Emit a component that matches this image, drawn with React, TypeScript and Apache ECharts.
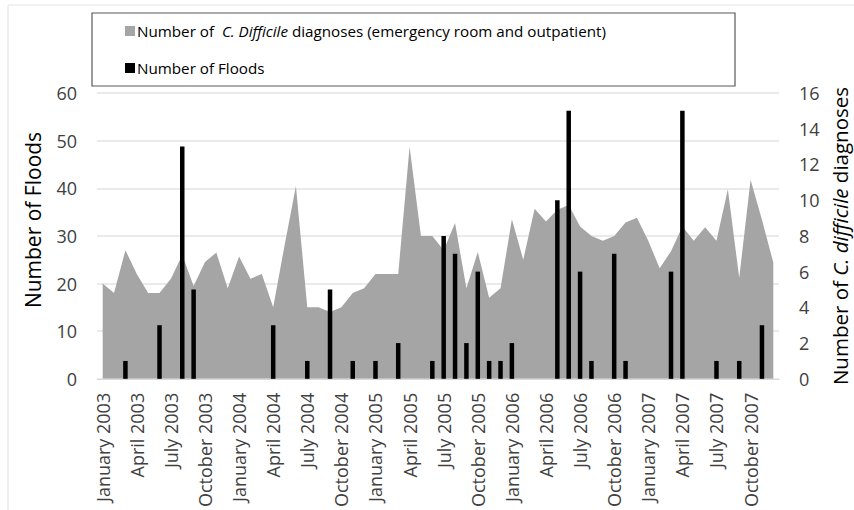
import React, { useEffect, useRef } from "react";
import * as echarts from "echarts";

const monthNames = ["January", "February", "March", "April", "May", "June", "July", "August", "September", "October", "November", "December"];
const years = [2003, 2004, 2005, 2006, 2007];
const categories: string[] = [];
years.forEach((y) => monthNames.forEach((m) => categories.push(`${m} ${y}`)));

// C. difficile diagnoses (grey area, left scale)
const diagnoses = [
  20, 18, 27, 22, 18, 18, 21, 26, 19.5, 24.5, 26.5, 19,
  25.7, 21, 22, 15, 28, 40.5, 15, 15, 14, 15, 18, 19,
  22, 22, 22, 48.7, 30, 30, 27, 32.7, 19, 26.6, 17, 19,
  33.5, 25, 35.7, 33, 35.5, 36.5, 32, 30, 29, 30, 32.8, 33.8,
  29, 23.2, 26.8, 32, 29, 31.8, 29, 39.8, 21.2, 41.8, 33.4, 24.4,
];

// Floods (black bars, right scale)
const floods = [
  0, 0, 1, 0, 0, 3, 0, 13, 5, 0, 0, 0,
  0, 0, 0, 3, 0, 0, 1, 0, 5, 0, 1, 0,
  1, 0, 2, 0, 0, 1, 8, 7, 2, 6, 1, 1,
  2, 0, 0, 0, 10, 15, 6, 1, 0, 7, 1, 0,
  0, 0, 6, 15, 0, 0, 1, 0, 1, 0, 3, 0,
];

const leftTicks = { min: 0, max: 60, interval: 10 };
const rightTicks = { min: 0, max: 16, interval: 2 };

const areaName = "Number of C. Difficile diagnoses (emergency room and outpatient)";
const barName = "Number of Floods";

const FONT = "'Open Sans', 'Noto Sans', sans-serif";
const TEXT = "#404040";

export default function App() {
  const ref = useRef<HTMLDivElement>(null);
  useEffect(() => {
    if (!ref.current) return;
    const chart = echarts.init(ref.current, undefined, { renderer: "svg" });
    chart.setOption({
      animation: false,
      backgroundColor: "#ffffff",
      textStyle: { fontFamily: FONT },
      grid: { left: 97, right: 75, top: 93, bottom: 130, containLabel: false },
      legend: {
        orient: "vertical",
        left: 125,
        top: 23,
        icon: "rect",
        itemWidth: 10,
        itemHeight: 10,
        itemGap: 21,
        padding: 0,
        data: [areaName, barName],
        formatter: (name: string) =>
          name === areaName
            ? "Number of  {i|C. Difficile} diagnoses (emergency room and outpatient)"
            : name,
        textStyle: {
          fontFamily: FONT,
          fontSize: 15.2,
          lineHeight: 16,
          color: "#000",
          padding: [0, 0, 0, -3],
          rich: {
            i: { fontFamily: FONT, fontSize: 15.2, fontStyle: "italic", color: "#000", lineHeight: 16 },
          },
        },
      },
      xAxis: {
        type: "category",
        data: categories,
        boundaryGap: true,
        axisLine: { lineStyle: { color: "#d9d9d9", width: 1 } },
        axisTick: { show: false },
        axisLabel: {
          rotate: 90,
          interval: 2,
          margin: 14,
          fontSize: 18,
          fontFamily: FONT,
          color: TEXT,
        },
        splitLine: { show: false },
      },
      yAxis: [
        {
          type: "value",
          ...leftTicks,
          axisLine: { show: false },
          axisTick: { show: false },
          axisLabel: { fontSize: 18, fontFamily: FONT, color: TEXT, margin: 20 },
          splitLine: { lineStyle: { color: "#e3e3e3", width: 1.5 } },
        },
        {
          type: "value",
          ...rightTicks,
          position: "right",
          axisLine: { show: false },
          axisTick: { show: false },
          axisLabel: { fontSize: 18, fontFamily: FONT, color: TEXT, margin: 20 },
          splitLine: { show: false },
        },
      ],
      series: [
        {
          name: areaName,
          type: "line",
          yAxisIndex: 0,
          data: diagnoses,
          symbol: "none",
          color: "#a5a5a5",
          lineStyle: { width: 0, color: "#a5a5a5" },
          areaStyle: { color: "#a5a5a5", opacity: 1 },
          z: 2,
        },
        {
          name: barName,
          type: "bar",
          yAxisIndex: 1,
          data: floods,
          barWidth: 4.5,
          color: "#000",
          itemStyle: { color: "#000" },
          z: 3,
        },
      ],
      graphic: [
        { type: "line", shape: { x1: 8, y1: 5, x2: 854, y2: 5 }, style: { stroke: "#ececec", lineWidth: 1.5 }, silent: true },
        { type: "line", shape: { x1: 8, y1: 5, x2: 8, y2: 510 }, style: { stroke: "#ececec", lineWidth: 1.5 }, silent: true },
        {
          type: "rect",
          shape: { x: 92, y: 13, width: 643, height: 73 },
          style: { fill: "none", stroke: "#595959", lineWidth: 1.2 },
          silent: true,
          z: 10,
        },
        {
          type: "text",
          x: 33,
          y: 220,
          rotation: Math.PI / 2,
          style: {
            text: "Number of Floods",
            font: `21px ${FONT}`,
            fill: "#000",
            align: "center",
            verticalAlign: "middle",
          },
          silent: true,
        },
        {
          type: "text",
          x: 840,
          y: 236,
          rotation: Math.PI / 2,
          style: {
            text: "Number of {i|C. difficile} diagnoses",
            font: `20.5px ${FONT}`,
            fontFamily: FONT,
            fontSize: 20.5,
            fill: "#000",
            align: "center",
            verticalAlign: "middle",
            rich: { i: { fontFamily: FONT, fontSize: 20.5, fontStyle: "italic", fill: "#000" } },
          },
          silent: true,
        },
      ],
    });
    return () => chart.dispose();
  }, []);
  return <div ref={ref} style={{ width: 854, height: 510, position: "absolute", left: 0, top: 0 }} />;
}
